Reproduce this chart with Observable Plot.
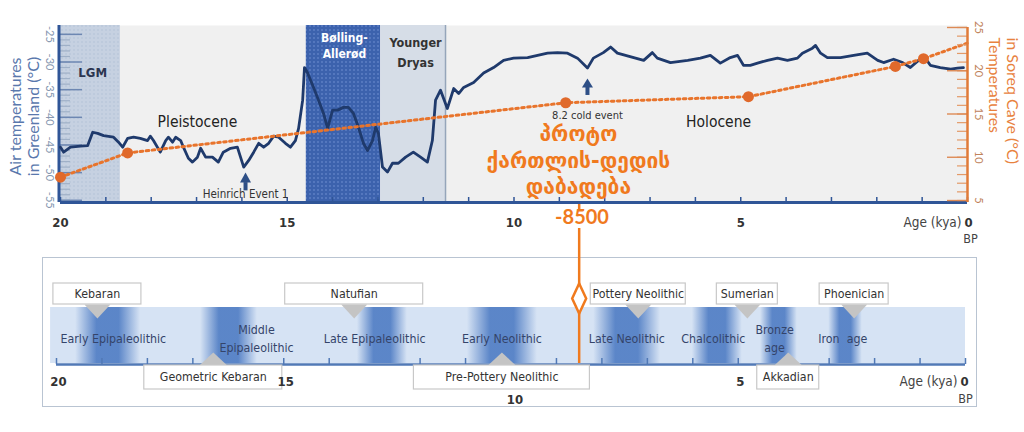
<!DOCTYPE html>
<html><head><meta charset="utf-8">
<script src="https://cdn.jsdelivr.net/npm/d3@7"></script>
<script src="https://cdn.jsdelivr.net/npm/@observablehq/plot@0.6"></script>
<style>
html,body{margin:0;padding:0;background:#fff;}
#wrap{position:relative;width:1024px;height:432px;overflow:hidden;}
#wrap svg{position:absolute;left:0;top:0;}
#box{position:absolute;left:42px;top:257px;width:935px;height:150px;border:1.5px solid #b9c4d2;box-sizing:border-box;background:#fff;}
</style></head><body><div id="wrap"><div id="box"></div></div>
<script>
// ---------------- DATA ----------------
// Greenland air temperature (°C) vs age (kya BP)
const greenlandAge = [20.00,19.93,19.78,19.56,19.40,19.29,19.18,19.05,18.83,18.72,18.63,18.52,18.39,18.24,18.08,18.02,17.95,17.80,17.68,17.62,17.53,17.46,17.35,17.29,17.18,17.09,16.98,16.91,16.80,16.65,16.52,16.41,16.25,16.10,16.03,15.96,15.85,15.74,15.63,15.52,15.41,15.30,15.19,15.04,14.93,14.82,14.75,14.66,14.62,14.55,
 14.42,14.31,14.20,14.11,14.00,13.89,13.76,13.65,13.54,13.43,13.32,13.23,13.12,13.05,12.99,12.90,12.79,12.68,12.55,12.39,12.22,12.06,11.91,11.80,11.73,11.62,11.47,11.33,11.22,11.11,10.89,10.67,10.45,10.23,10.01,9.70,9.48,9.26,9.04,8.82,8.60,8.38,8.25,8.03,7.87,7.72,
 7.36,7.14,6.95,6.84,6.55,6.17,5.89,5.67,5.45,5.23,5.07,4.94,4.79,4.63,4.41,4.19,3.97,3.75,3.64,3.42,3.35,3.24,3.09,2.80,2.51,2.21,1.98,1.85,1.63,1.43,1.26,1.08,0.93,0.82,0.60,0.37,0.22,0.09];
const greenlandTemp = [-45.4,-46.3,-45.4,-45.2,-45.1,-42.7,-42.9,-43.3,-43.6,-44.5,-45.4,-43.8,-43.6,-43.8,-44.2,-43.4,-44.2,-46.3,-44.2,-43.6,-44.5,-43.6,-44.2,-45.4,-47.4,-48.1,-47.2,-45.6,-47.2,-47.2,-48.1,-46.3,-45.6,-45.4,-47.2,-49.0,-47.8,-46.3,-44.7,-45.4,-44.7,-43.4,-43.6,-44.7,-45.4,-44.2,-42.0,-36.9,-31.0,-32.0,
 -34.6,-36.9,-39.3,-42.0,-38.7,-38.7,-38.2,-38.2,-39.3,-41.8,-44.7,-46.0,-44.2,-41.8,-42.9,-49.0,-49.9,-48.3,-48.3,-47.2,-46.3,-47.2,-48.1,-44.2,-36.9,-35.1,-38.4,-34.8,-35.7,-34.6,-33.7,-32.0,-31.0,-29.7,-29.3,-29.2,-28.8,-28.4,-28.3,-28.4,-29.3,-31.1,-29.3,-28.3,-27.3,-28.4,
 -29.2,-29.7,-28.3,-29.3,-30.1,-29.7,-29.3,-28.8,-30.2,-29.2,-28.8,-30.6,-30.6,-30.2,-29.7,-29.3,-29.7,-29.3,-28.4,-27.5,-27.0,-28.4,-29.2,-29.2,-28.8,-28.4,-29.7,-30.1,-29.5,-30.1,-31.0,-29.7,-29.3,-30.6,-31.0,-31.3,-31.1,-31.0];

// Soreq Cave temperatures (°C)
const soreqAge  = [20.0, 18.52, 8.86, 4.83, 1.59, 0.97];
const soreqTemp = [7.7, 10.5, 16.3, 17.0, 20.5, 21.4];
const soreqTrendEndAge = 0, soreqTrendEndTemp = 23.2;

// Climate periods (kya)
const bandNames = ["LGM", "Bølling-Allerød", "Younger Dryas"];
const bandStart = [20.0, 14.58, 12.94];
const bandEnd   = [18.68, 12.94, 11.51];

// Axis ticks
const greenlandTicks = [-55, -50, -45, -40, -35, -30, -25];
const soreqTicks = [5, 10, 15, 20, 25];
const ageLabels = [20, 15, 10, 5];
const topAgeTicks = d3.range(0, 21);
const timelineAgeTicks = [20, 19, 18, 17, 15, 14, 12, 11, 9, 8, 7, 6, 5, 3, 2, 1, 0];

// Annotations
const heinrichAge = 15.92, coldEventAge = 8.38;
const protoAge = 8.5;
const georgianLines = ["პროტო", "ქართლის-დედის", "დაბადება"];

// Archaeological periods (timeline)
const periodNames = ["Early Epipaleolithic", "Middle\nEpipaleolithic", "Late Epipaleolithic", "Early Neolithic", "Late Neolithic", "Chalcolithic", "Bronze\nage", "Iron  age"];
const periodAge   = [18.75, 15.6, 13.0, 10.2, 7.45, 5.55, 4.2, 2.7];
const transStart  = [19.58, 16.83, 13.38, 10.96, 8.18, 6.01, 4.51, 3.01];
const transEnd    = [18.15, 15.58, 12.28, 9.42, 6.71, 4.91, 3.70, 2.27];

// Cultures
const cultureAboveNames = ["Kebaran", "Natufian", "Pottery Neolithic", "Sumerian", "Phoenician"];
const cultureAboveAge   = [19.1, 13.45, 7.2, 4.8, 2.45];
const cultureBelowNames = ["Geometric Kebaran", "Pre-Pottery Neolithic", "Akkadian"];
const cultureBelowAge   = [16.55, 10.2, 3.9];

// ---------------- LAYOUT / STYLE ----------------
const FN = "'Liberation Sans Narrow','DejaVu Sans Condensed',Lato,sans-serif";
const FR = "Lato,'Liberation Sans',sans-serif";
const FG = "'DejaVu Sans',sans-serif";
const NAVY = "#1f3a6c", AXIS = "#2f5597", ORANGE = "#f07a1e", DOT = "#e0692b";
const bandColors = ["url(#lgm)", "url(#ba)", "#d6dde7"];
const G_MIN = -55.4, G_MAX = -23.4, S_MIN = 4.77, S_MAX = 25.23;
const FW = 1024 - 60 - 57, FH = 432 - 25 - 230;
const cultureAboveBoxPx = [88, 138, 95, 61, 69];
const cultureBelowBoxPx = [138, 176, 62];
const PX_PER_KYA = 909 / 20;
const BAND_TOP = 307, BAND_BOTTOM = 363, AX_Y = 364;
const ABOVE_TOP = 283, ABOVE_BOTTOM = 304, BELOW_TOP = 365, BELOW_BOTTOM = 389;

const triSymbol = (w, h, dir) => ({draw(ctx) { ctx.moveTo(-w/2, 0); ctx.lineTo(w/2, 0); ctx.lineTo(0, dir*h); ctx.closePath(); }});
const diamond = {draw(ctx) { ctx.moveTo(0,-15); ctx.lineTo(7,0); ctx.lineTo(0,15); ctx.lineTo(-7,0); ctx.closePath(); }};
const defsMark = (html) => () => {
  const defs = document.createElementNS("http://www.w3.org/2000/svg", "defs");
  defs.innerHTML = html;
  return defs;
};

const gIdx = d3.range(greenlandAge.length);
const sIdx = d3.range(soreqAge.length);
const sLine = sIdx.map(i => ({a: soreqAge[i], t: soreqTemp[i]})).concat([{a: soreqTrendEndAge, t: soreqTrendEndTemp}]);

const common = {width: 1024, height: 432, marginLeft: 60, marginRight: 57, marginTop: 25, marginBottom: 230};

// ---------------- TOP: Greenland ----------------
const topPlot = Plot.plot({
  ...common,
  x: {domain: [20, 0], axis: null},
  y: {domain: [G_MIN, G_MAX], axis: null},
  style: {background: "transparent", overflow: "visible", fontFamily: FN},
  marks: [
    defsMark(`<pattern id="ba" width="4" height="4" patternUnits="userSpaceOnUse">
        <rect width="4" height="4" fill="#3c62ad"/><circle cx="2" cy="2" r="0.9" fill="#5f82c6"/></pattern>
      <pattern id="lgm" width="4" height="4" patternUnits="userSpaceOnUse">
        <rect width="4" height="4" fill="#c6d1e1"/><circle cx="2" cy="2" r="0.8" fill="#b3c1d6"/></pattern>`),
    Plot.frame({fill: "#f0f0f0", stroke: null}),
    ...bandNames.map((n, i) => Plot.rect([n], {x1: bandStart[i], x2: bandEnd[i], fill: bandColors[i]})),
    Plot.ruleX([bandEnd[2]], {stroke: "#95a5ba", strokeWidth: 1.5}),
    // left axis ticks
    Plot.tickY(d3.range(-55, -24), {y: d => d, insetRight: FW - 10, stroke: "#9fb0c7", strokeWidth: 1.2}),
    Plot.tickY(greenlandTicks, {y: d => d, insetRight: FW - 22, stroke: "#6d87b2", strokeWidth: 1.5}),
    Plot.ruleX([20], {dx: -1.5, y1: G_MIN, y2: G_MAX, stroke: AXIS, strokeWidth: 3}),
    Plot.text(greenlandTicks, {x: 20, y: d => d, text: d => String(d), rotate: 90, dx: -11, fontSize: 11, fill: "#8697b0", fontFamily: FR}),
    Plot.text(["Air temperatures"], {x: 20, y: -39.85, dx: -45, rotate: -90, fontSize: 16, fill: "#5a78ad", fontFamily: FR}),
    Plot.text(["in Greenland (°C)"], {x: 20, y: -39.85, dx: -27, rotate: -90, fontSize: 16, fill: "#5a78ad", fontFamily: FR}),
    // bottom axis
    Plot.tickX(topAgeTicks, {x: d => d, insetTop: FH - 5, stroke: AXIS, strokeWidth: 1.5}),
    Plot.ruleY([G_MIN], {x1: 20, x2: 0, stroke: AXIS, strokeWidth: 3}),
    Plot.text(ageLabels, {x: d => d, y: G_MIN, dy: 20, text: d => String(d), fontWeight: "bold", fontSize: 13, fill: "#333"}),
    Plot.text(["0"], {x: 0, y: G_MIN, dy: 20, dx: 1, fontWeight: "bold", fontSize: 13, fill: "#333"}),
    Plot.text(["Age (kya)"], {x: 0, y: G_MIN, dy: 20, dx: -6, textAnchor: "end", fontSize: 13.5, fill: "#444"}),
    Plot.text(["BP"], {x: 0, y: G_MIN, dy: 36, dx: 3, fontSize: 12.5, fill: "#444"}),
    // temperature line
    Plot.line(gIdx, {x: i => greenlandAge[i], y: i => greenlandTemp[i], stroke: NAVY, strokeWidth: 2.8}),
    // labels
    Plot.text(["LGM"], {x: 19.29, y: -31.9, fontWeight: "bold", fontSize: 13, fill: "#2b3550"}),
    Plot.text(["Pleistocene"], {x: 16.98, y: -40.9, fontSize: 15.5, fill: "#222"}),
    Plot.text(["Bølling-"], {x: 13.74, y: -25.6, fontWeight: "bold", fontSize: 12, fill: "#fff"}),
    Plot.text(["Allerød"], {x: 13.74, y: -28.6, fontWeight: "bold", fontSize: 12, fill: "#fff"}),
    Plot.text(["Younger"], {x: 12.17, y: -26.65, fontWeight: "bold", fontSize: 12.5, fill: "#333"}),
    Plot.text(["Dryas"], {x: 12.17, y: -30.1, fontWeight: "bold", fontSize: 12.5, fill: "#333"}),
    Plot.text(["Holocene"], {x: 5.49, y: -40.9, fontSize: 15.5, fill: "#222"}),
    Plot.text(["Heinrich Event 1"], {x: heinrichAge, y: -53.95, fontSize: 11.5, fill: "#333"}),
    Plot.ruleX([heinrichAge], {y1: -53.3, y2: -51.8, stroke: "#2e4f86", strokeWidth: 4}),
    Plot.dot([heinrichAge], {x: d => d, y: -51.8, symbol: triSymbol(11, 10, -1), fill: "#2e4f86"}),
    Plot.text(["8.2 cold event"], {x: coldEventAge, y: -39.7, fontSize: 11, fill: "#333"}),
    Plot.ruleX([coldEventAge], {y1: -36.05, y2: -34.6, stroke: "#2e4f86", strokeWidth: 4}),
    Plot.dot([coldEventAge], {x: d => d, y: -34.6, symbol: triSymbol(11, 9, -1), fill: "#2e4f86"}),
    // Georgian annotation
    Plot.text([georgianLines[0]], {x: 8.58, y: -43.1, fontSize: 21, fontWeight: "bold", fill: ORANGE, fontFamily: FG}),
    Plot.text([georgianLines[1]], {x: 8.58, y: -47.9, fontSize: 21, fontWeight: "bold", fill: ORANGE, fontFamily: FG}),
    Plot.text([georgianLines[2]], {x: 8.58, y: -52.7, fontSize: 21, fontWeight: "bold", fill: ORANGE, fontFamily: FG}),
    Plot.text(["-" + protoAge * 1000], {x: protoAge, y: G_MIN, dy: 15, fontSize: 20, fontWeight: "bold", fill: ORANGE, fontFamily: FR})
  ]
});

// ---------------- TOP overlay: Soreq Cave ----------------
const soreqPlot = Plot.plot({
  ...common,
  x: {domain: [20, 0], axis: null},
  y: {domain: [S_MIN, S_MAX], axis: null},
  style: {background: "transparent", overflow: "visible", fontFamily: FN},
  marks: [
    Plot.line(sLine, {x: "a", y: "t", stroke: "#e8742c", strokeWidth: 3, strokeDasharray: "2.6,3.4"}),
    Plot.dot(sIdx, {x: i => soreqAge[i], y: i => soreqTemp[i], r: 5.5, fill: DOT}),
    Plot.tickY(d3.range(5, 26), {y: d => d, insetLeft: FW - 10, stroke: "#e39a68", strokeWidth: 1.2}),
    Plot.tickY(soreqTicks, {y: d => d, insetLeft: FW - 20, stroke: "#dd8a55", strokeWidth: 1.4}),
    Plot.ruleX([0], {y1: S_MIN, y2: 25, stroke: "#e07b39", strokeWidth: 2.5}),
    Plot.text(soreqTicks, {x: 0, y: d => d, text: d => String(d), rotate: 90, dx: 11, fontSize: 11, fill: "#c0825a", fontFamily: FR}),
    Plot.text(["Temperatures"], {x: 0, y: 23.85, dx: 27, rotate: 90, textAnchor: "start", fontSize: 16, fill: "#e8823e", fontFamily: FR}),
    Plot.text(["in Soreq Cave (°C)"], {x: 0, y: 23.85, dx: 45, rotate: 90, textAnchor: "start", fontSize: 16, fill: "#e8823e", fontFamily: FR})
  ]
});

// ---------------- BOTTOM: archaeological timeline ----------------
const boxMarks = (names, ages, widths, y1, y2) => names.map((n, i) =>
  Plot.rect([n], {x1: ages[i] + widths[i] / 2 / PX_PER_KYA, x2: ages[i] - widths[i] / 2 / PX_PER_KYA, y1, y2, fill: "#fff", stroke: "#c8c8c8", strokeWidth: 1.2}));

const timeline = Plot.plot({
  width: 1024, height: 432, margin: 0,
  x: {domain: [20, 0], range: [56, 965], axis: null},
  y: {domain: [0, 432], range: [0, 432], axis: null},
  style: {background: "transparent", overflow: "visible", fontFamily: FN},
  marks: [
    defsMark(`<linearGradient id="blob" x1="0" x2="1" y1="0" y2="0">
      <stop offset="0" stop-color="#5581c6" stop-opacity="0"/>
      <stop offset="0.33" stop-color="#5581c6" stop-opacity="0.95"/>
      <stop offset="0.67" stop-color="#5581c6" stop-opacity="0.95"/>
      <stop offset="1" stop-color="#5581c6" stop-opacity="0"/></linearGradient>`),
    Plot.rect([0], {x1: 20.13, x2: 0, y1: BAND_TOP, y2: BAND_BOTTOM, fill: "#d6e3f4"}),
    Plot.rect(d3.range(transStart.length), {x1: i => transStart[i], x2: i => transEnd[i], y1: BAND_TOP, y2: BAND_BOTTOM, fill: "url(#blob)"}),
    Plot.ruleX(timelineAgeTicks, {x: d => d, y1: AX_Y - 6, y2: AX_Y, stroke: "#5179b6", strokeWidth: 1.5}),
    Plot.ruleY([AX_Y], {x1: 20, x2: 0, stroke: "#5179b6", strokeWidth: 2.5}),
    Plot.text(periodNames, {x: (d, i) => periodAge[i], y: 337, fontSize: 12.3, lineHeight: 1.45, fill: "#34446a"}),
    Plot.dot(cultureAboveAge, {x: d => d, y: ABOVE_BOTTOM, symbol: triSymbol(26, 14, 1), fill: "#c4c4c4"}),
    Plot.dot(cultureBelowAge, {x: d => d, y: BELOW_TOP, symbol: triSymbol(28, 13, -1), fill: "#c4c4c4"}),
    ...boxMarks(cultureAboveNames, cultureAboveAge, cultureAboveBoxPx, ABOVE_TOP, ABOVE_BOTTOM),
    ...boxMarks(cultureBelowNames, cultureBelowAge, cultureBelowBoxPx, BELOW_TOP, BELOW_BOTTOM),
    Plot.text(cultureAboveNames, {x: (d, i) => cultureAboveAge[i], y: (ABOVE_TOP + ABOVE_BOTTOM) / 2, fontSize: 12.3, fill: "#333"}),
    Plot.text(cultureBelowNames, {x: (d, i) => cultureBelowAge[i], y: (BELOW_TOP + BELOW_BOTTOM) / 2, fontSize: 12.3, fill: "#333"}),
    Plot.text([20, 15, 5], {x: d => d, y: 381, dx: 2, text: d => String(d), fontWeight: "bold", fontSize: 13, fill: "#333"}),
    Plot.text([10], {x: d => d, y: 399, dx: 4, text: d => String(d), fontWeight: "bold", fontSize: 13, fill: "#333"}),
    Plot.text(["0"], {x: 0, y: 381, dx: -1, fontWeight: "bold", fontSize: 13, fill: "#333"}),
    Plot.text(["Age (kya)"], {x: 0, y: 381, dx: -8, textAnchor: "end", fontSize: 13.5, fill: "#444"}),
    Plot.text(["BP"], {x: 0, y: 398, dx: 0, fontSize: 12.5, fill: "#444"}),
    // -8500 marker
    Plot.ruleX([protoAge], {y1: 203, y2: 209, stroke: ORANGE, strokeWidth: 2.5}),
    Plot.ruleX([protoAge], {y1: 228, y2: 363, stroke: ORANGE, strokeWidth: 2.5}),
    Plot.dot([protoAge], {x: d => d, y: 298, symbol: diamond, fill: "#fff", stroke: ORANGE, strokeWidth: 2.5})
  ]
});

const wrap = document.getElementById("wrap");
wrap.appendChild(timeline);
wrap.appendChild(topPlot);
wrap.appendChild(soreqPlot);
</script>
</body></html>
